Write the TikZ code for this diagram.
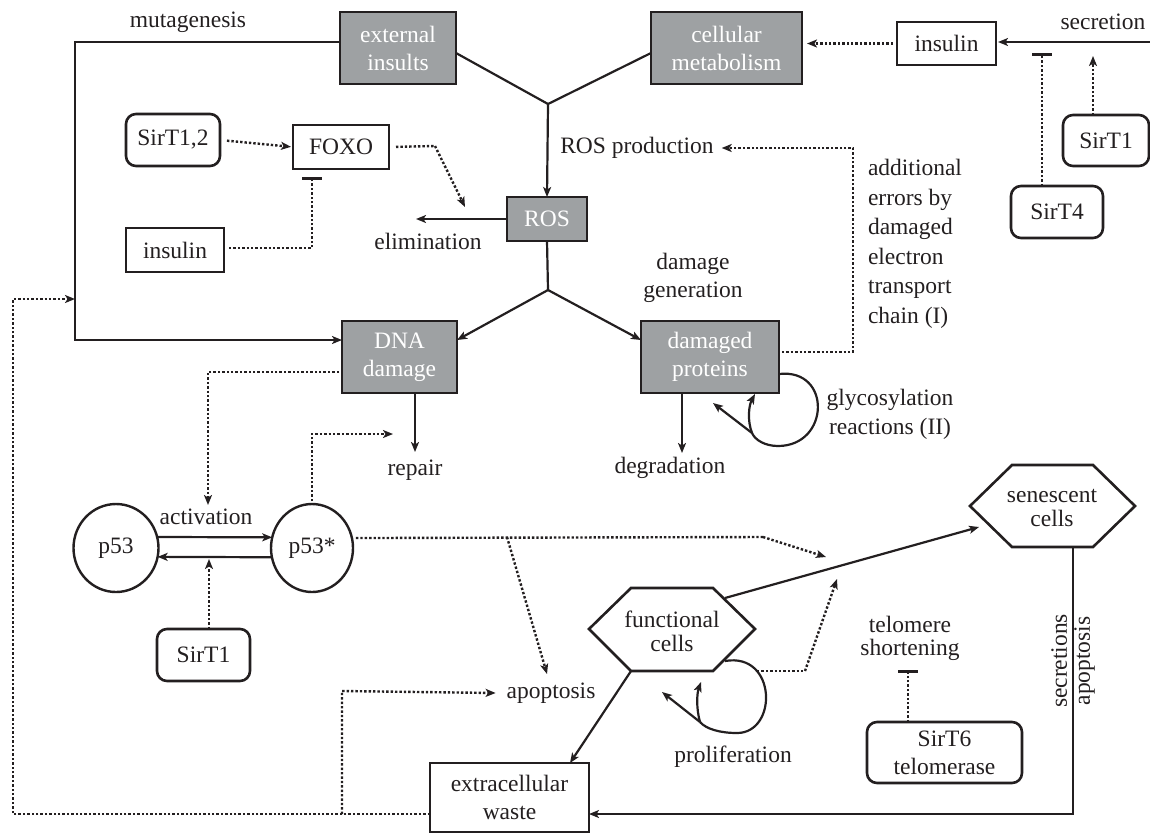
\documentclass[tikz,border=0pt]{standalone}
\usepackage{fontspec}
\IfFontExistsTF{LiberationSerif-Regular.ttf}
  {\setmainfont{LiberationSerif-Regular.ttf}}
  {\setmainfont{Liberation Serif}}
\usetikzlibrary{arrows.meta,shapes.geometric}
\definecolor{boxgray}{RGB}{158,161,163}
\definecolor{ink}{RGB}{35,31,32}
\begin{document}
\begin{tikzpicture}[x=1pt,y=-1pt,
  font=\rmfamily\fontsize{23.5}{28}\selectfont,
  every node/.style={inner sep=0pt,outer sep=0pt,text=ink},
  gbox/.style={draw=ink,line width=2.6pt,fill=boxgray,text=white,align=center},
  wbox/.style={draw=ink,line width=2.6pt,fill=white,align=center},
  rbox/.style={draw=ink,line width=2.6pt,fill=white,align=center,rounded corners=10pt},
  ell/.style={draw=ink,line width=2.4pt,ellipse,fill=white},
  lbl/.style={align=center},
  con/.style={draw=ink,line width=2.2pt},
  arr/.style={con,-{Stealth[length=10pt,width=8pt,inset=2.5pt]}},
  dcon/.style={draw=ink,line width=2.4pt,dash pattern=on 2.4pt off 2pt},
  darr/.style={dcon,-{Stealth[length=10pt,width=8pt,inset=2.5pt]}},
  dbar/.style={dcon,-{Bar[width=20pt,line width=2.6pt]}},
]
\useasboundingbox (0,0) rectangle (1150,836);

% gray boxes
\node[gbox,minimum width=116pt,minimum height=72pt] (ext) at (398,48) {external\\insults};
\node[gbox,minimum width=151pt,minimum height=72pt] (cell) at (726.5,48) {cellular\\metabolism};
\node[gbox,minimum width=80pt,minimum height=44pt] (ros) at (547,219) {ROS};
\node[gbox,minimum width=115pt,minimum height=72pt] (dna) at (399.5,357) {DNA\\damage};
\node[gbox,minimum width=138pt,minimum height=72pt] (prot) at (710,357) {damaged\\proteins};

% white boxes
\node[wbox,minimum width=96pt,minimum height=44pt] (foxo) at (341,147) {FOXO};
\node[wbox,minimum width=98pt,minimum height=44pt] (insL) at (175,250) {insulin};
\node[wbox,minimum width=99pt,minimum height=43pt] (insR) at (946.5,43.5) {insulin};
\node[wbox,minimum width=159pt,minimum height=69pt] (waste) at (509.5,797.5) {extracellular\\waste};

% rounded boxes
\node[rbox,minimum width=94pt,minimum height=52pt] (s12) at (173,140) {SirT1,2};
\node[rbox,minimum width=92pt,minimum height=52pt] (s4) at (1057,212) {SirT4};
\node[rbox,minimum width=86pt,minimum height=51pt] (s1r) at (1106,140.5) {SirT1};
\node[rbox,minimum width=93pt,minimum height=52pt] (s1l) at (203.5,655) {SirT1};
\node[rbox,minimum width=155pt,minimum height=61pt] (s6) at (944.5,752.5) {SirT6\\telomerase};

% ellipses
\node[ell,minimum width=85pt,minimum height=88pt] (p53) at (116,548) {p53};
\node[ell,minimum width=82pt,minimum height=88pt] (p53s) at (312,548) {p53*};

% hexagons
\coordinate (fL) at (589,629); \coordinate (fTL) at (631,588); \coordinate (fTR) at (713,588);
\coordinate (fR) at (755,629); \coordinate (fBR) at (713,671); \coordinate (fBL) at (631,671);
\draw[draw=ink,line width=2.6pt,fill=white,line join=miter] (fL)--(fTL)--(fTR)--(fR)--(fBR)--(fBL)--cycle;
\node[lbl,font=\rmfamily\fontsize{23.5}{24}\selectfont] (fc) at (672,631) {functional\\cells};
\coordinate (sL) at (970,506); \coordinate (sTL) at (1012,465); \coordinate (sTR) at (1093,465);
\coordinate (sR) at (1135,506); \coordinate (sBR) at (1093,547); \coordinate (sBL) at (1012,547);
\draw[draw=ink,line width=2.6pt,fill=white,line join=miter] (sL)--(sTL)--(sTR)--(sR)--(sBR)--(sBL)--cycle;
\node[lbl,font=\rmfamily\fontsize{23.5}{24}\selectfont] (sc) at (1052,508) {senescent\\cells};

% labels
\node (mut) at (188,22) {mutagenesis};
\node (rosprod) at (637,148) {ROS production};
\node (elim) at (428,241) {elimination};
\node (repair) at (415,470) {repair};
\node (degr) at (670,468) {degradation};
\node[lbl] (dgen) at (693,278) {damage\\generation};
\node[align=left,anchor=west,font=\rmfamily\fontsize{23.5}{29.5}\selectfont] (addl) at (868,244)
  {additional\\errors by\\damaged\\electron\\transport\\chain (I)};
\node (act) at (206,517) {activation};
\node (apop) at (551,693) {apoptosis};
\node (prolif) at (733,757) {proliferation};
\node[lbl,font=\rmfamily\fontsize{23.5}{29}\selectfont] (glyc) at (890,414) {glycosylation\\reactions (II)};
\node[lbl,font=\rmfamily\fontsize{23.5}{23}\selectfont] (telo) at (910,638) {telomere\\shortening};
\node (secr) at (1103,22) {secretion};
\node[lbl,rotate=90,font=\rmfamily\fontsize{23.5}{23}\selectfont] (secap) at (1073,661) {secretions\\apoptosis};

% coordinates
\coordinate (J1) at (548,104);
\coordinate (J2) at (548,290);
\coordinate (M1) at (75,42);
\coordinate (M2) at (75,340);
\coordinate (E1) at (416,219);
\coordinate (R1) at (415,452);
\coordinate (D1) at (682,453);
\coordinate (S0) at (1152,42);

% top Y
\draw[con] ([yshift=-5pt]ext.east) -- (J1);
\draw[con] ([yshift=-5pt]cell.west) -- (J1);
\draw[arr] (J1) -- (ros.north);
\draw[con] (ros.south) -- (J2);
\draw[arr] (J2) -- ([yshift=17pt]dna.east);
\draw[arr] (J2) -- ([yshift=17pt]prot.west);
\draw[arr] (ros.west) -- (E1);

% mutagenesis
\draw[arr] ([yshift=6pt]ext.west) -- (M1) -- (M2) -- ([yshift=17pt]dna.west);

% FOXO
\draw[darr,shorten <=7pt,shorten >=2pt] (s12.east) -- (foxo.west);
\draw[dcon,shorten <=7pt] (foxo.east) -- (435,146) coordinate (F1);
\draw[darr] (F1) -- (465,207) coordinate (F2);
\draw[dbar,shorten <=5pt] ([yshift=2pt]insL.east) -- (312,248) coordinate (I1) -- (312,177) coordinate (I2);

% ROS production feedback
\draw[darr,shorten <=3pt,shorten >=8pt] ([yshift=5pt]prot.east) -- (853,352) coordinate (P1) -- (853,148) coordinate (P2) -- (rosprod.east);

% top right
\draw[darr,shorten <=4pt,shorten >=5pt] (insR.west) -- (insR.west -| cell.east);
\draw[arr,shorten >=2pt] (S0) -- (S0 -| insR.east);
\draw[dbar] ([xshift=-15pt]s4.north) -- (1042,53);
\draw[darr] ([xshift=-13pt]s1r.north) -- (1093,56);

% DNA damage
\draw[darr,shorten <=3pt] ([yshift=-15pt]dna.west) -- (208,372) coordinate (A1) -- (208,505) coordinate (A2);
\draw[arr] ([xshift=15.5pt]dna.south) -- (R1);

% p53
\draw[arr] (p53.15) -- (p53s.165);
\draw[arr] (p53s.193) -- (p53.-12);
\draw[darr] ([xshift=5.5pt]s1l.north) -- (209,559);
\draw[darr,shorten <=3pt] (p53s.north) -- (312,434) coordinate (Q1) -- (393,434) coordinate (Q2);
\draw[dcon,shorten <=4pt] (p53s.14) -- (763,537) coordinate (Q3);
\draw[darr] (Q3) -- (826,557);
\draw[darr] (507,537) coordinate (Q4) -- (547,674);

% damaged proteins
\draw[arr] ([xshift=-28pt]prot.south) -- (D1);
\draw[con] ([yshift=-17pt]prot.east) .. controls (832,368) and (830,446) .. (778,446)
  .. controls (765,446) and (755,440) .. (752,433) coordinate (G0);
\draw[arr] (G0) .. controls (747,420) and (749,405) .. (755,394);
\draw[arr] (G0) -- (713,403);

% cells
\draw[arr] (725,598) coordinate (C1) -- (979,527);
\draw[con] (725,661) coordinate (L0) .. controls (777,652) and (778,733) .. (737,733)
  .. controls (720,733) and (706,729) .. (700,722) coordinate (L1);
\draw[arr] (L1) .. controls (696,708) and (697,693) .. (701,682);
\draw[arr] (L1) -- (662,692);
\draw[dcon] (757,671) coordinate (T0) -- (805,671) coordinate (T1);
\draw[darr] (T1) -- (837,579);
\draw[arr] (fBL) -- (570,763);
\draw[arr] (sBR |- sBL) ++(-20,0) coordinate (sB) -- (1073,814) coordinate (W1) -- ([yshift=-16.5pt]waste.east);
\draw[dbar] ([xshift=-36.5pt]s6.north) -- (908,670);

% big dotted feedback
\draw[darr] ([yshift=-16.5pt]waste.west) -- (13,814) coordinate (B1) -- (13,299) coordinate (B2) -- (M1 |- B2);
\draw[darr] (342,814) coordinate (B3) -- (342,691) coordinate (B4) -- ([xshift=-11pt]apop.west);
\end{tikzpicture}
\end{document}
